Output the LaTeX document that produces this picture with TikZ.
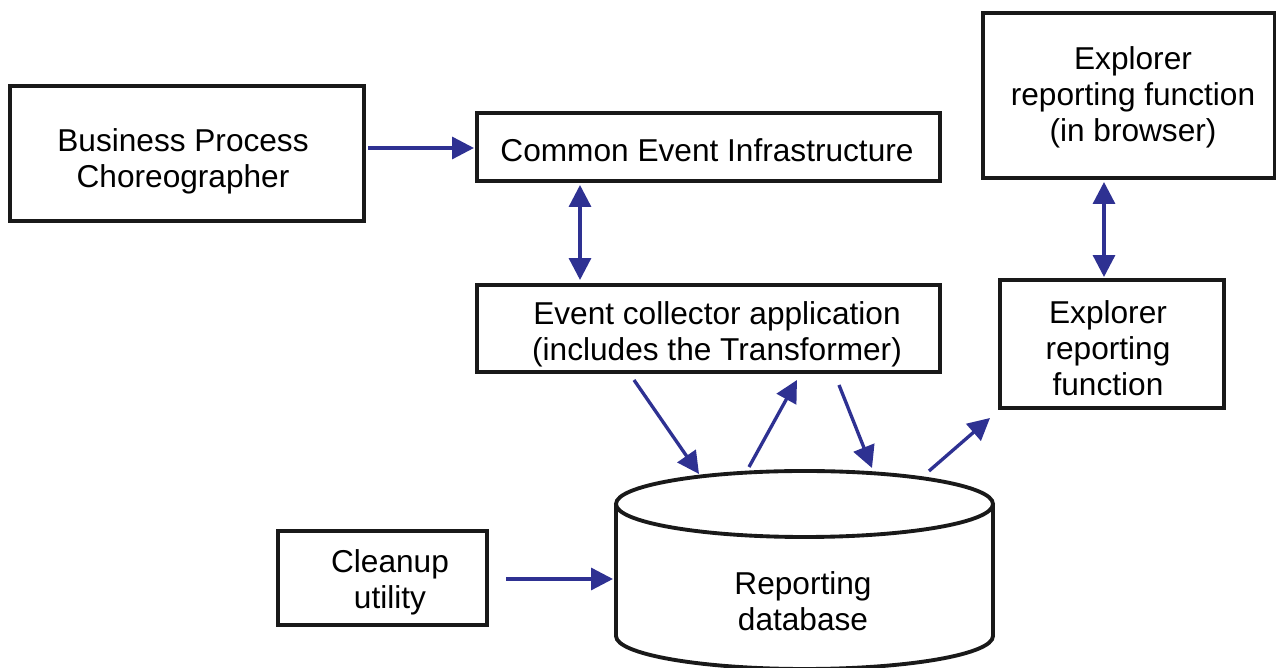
\documentclass[tikz,border=0pt]{standalone}
\usepackage{fontspec}
\setmainfont{Liberation Sans}
\usetikzlibrary{arrows.meta}
\definecolor{arrowblue}{HTML}{2E3192}
\begin{document}
\begin{tikzpicture}[x=0.02cm,y=-0.02cm,
  box/.style={draw=black!90,line width=2.2pt,inner sep=0pt},
  conn/.style={draw=arrowblue,line width=1.9pt,
    -{Triangle[length=12.5pt,width=12.5pt]}},
  biconn/.style={draw=arrowblue,line width=1.9pt,
    {Triangle[length=12.5pt,width=12.5pt]}-{Triangle[length=12.5pt,width=12.5pt]}},
  lbl/.style={align=center,inner sep=0pt,font=\fontsize{18pt}{20.4pt}\selectfont}]
\useasboundingbox (0,0) rectangle (1276,668);
\node[box,minimum width=354*0.02cm,minimum height=135*0.02cm] (bpc) at (187,153.5) {};
\node[lbl] (bpct) at (183,161) {Business Process\\Choreographer};
\node[box,minimum width=463*0.02cm,minimum height=68*0.02cm] (cei) at (708.5,147) {};
\node[lbl] (ceit) at (707,150) {Common Event Infrastructure};
\node[box,minimum width=292*0.02cm,minimum height=165*0.02cm] (brow) at (1129,95.5) {};
\node[lbl] (browt) at (1133,97) {Explorer\\reporting function\\(in browser)};
\node[box,minimum width=463*0.02cm,minimum height=87*0.02cm] (ecol) at (708.5,328.5) {};
\node[lbl] (ecolt) at (717,334) {Event collector application\\(includes the Transformer)};
\node[box,minimum width=224*0.02cm,minimum height=128*0.02cm] (expl) at (1112,344) {};
\node[lbl] (explt) at (1108,348) {Explorer\\reporting\\function};
\node[box,minimum width=209*0.02cm,minimum height=94*0.02cm] (clean) at (382.5,578) {};
\node[lbl] (cleant) at (390,582) {Cleanup\\utility};
% cylinder
\draw[black!90,line width=2.2pt,fill=white] (616,504) -- (616,636) arc[start angle=180,end angle=0,x radius=188.5,y radius=33] -- (993,504);
\draw[black!90,line width=2.2pt,fill=white] (804.5,504) ellipse[x radius=188.5,y radius=33];
\node[lbl] (db) at (803,601) {Reporting\\database};
\coordinate (d1) at (699,474);
\coordinate (d2) at (749,467);
\coordinate (d3) at (872,468);
\coordinate (d4) at (929,471);
\coordinate (dl) at (613,579);
\coordinate (c1) at (634,380);
\coordinate (c2) at (797,380);
\coordinate (c3) at (839,385);
\coordinate (e1) at (990,418);
\coordinate (ceib) at (580,185);
\coordinate (ecoltop) at (580,280);
\coordinate (browb) at (1104,182);
\coordinate (expltop) at (1104,277);
\coordinate (bpcr) at (368,148);
\coordinate (ceil) at (474,148);
\coordinate (cleanr) at (506,579);
\path[conn] (bpcr) -- (ceil);
\path[biconn] (ceib) -- (ecoltop);
\path[biconn] (browb) -- (expltop);
\path[conn] (c1) -- (d1);
\path[conn] (d2) -- (c2);
\path[conn] (c3) -- (d3);
\path[conn] (d4) -- (e1);
\path[conn] (cleanr) -- (dl);
\end{tikzpicture}
\end{document}
